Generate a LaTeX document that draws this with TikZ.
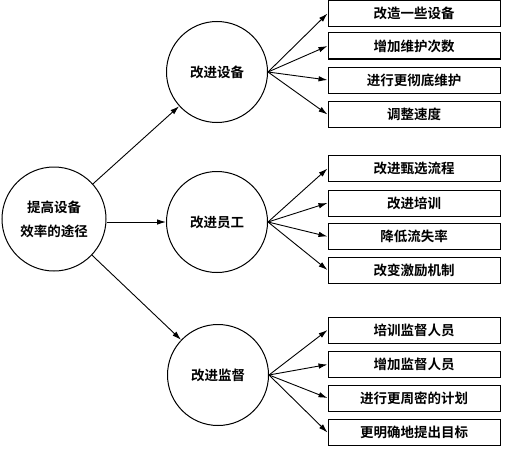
\documentclass[tikz,border=0pt]{standalone}
\usepackage{fontspec}
\newfontfamily\cjk{Noto Sans CJK SC}[BoldFont={Noto Sans CJK SC Bold}]
\usetikzlibrary{arrows.meta}
\begin{document}
\begin{tikzpicture}[x=1pt,y=-1pt,
  every node/.style={font=\cjk\bfseries\fontsize{13.5}{24}\selectfont},
  bigc/.style={draw, circle, line width=1pt, minimum size=104pt, inner sep=0pt, align=center},
  midc/.style={draw, circle, line width=1pt, minimum size=101pt, inner sep=0pt},
  box/.style={draw, rectangle, line width=1pt, minimum width=172pt, minimum height=26pt, inner sep=0pt},
  arr/.style={line width=0.9pt, -{Latex[length=9pt,width=5.5pt]}}]
\useasboundingbox (0,0) rectangle (508,452);
\node[bigc] (L) at (54,219) {提高设备\\效率的途径};
\node[midc] (M1) at (217,72) {改进设备};
\node[midc] (M2) at (217,222) {改进员工};
\node[midc] (M3) at (218,375) {改进监督};
\node[box] (a1) at (414,13.5) {改造一些设备};
\node[box] (a2) at (414,46) {增加维护次数};
\node[box] (a3) at (414,80) {进行更彻底维护};
\node[box] (a4) at (414,114.5) {调整速度};
\node[box] (b1) at (414,168.5) {改进甄选流程};
\node[box] (b2) at (414,203) {改进培训};
\node[box] (b3) at (414,236.5) {降低流失率};
\node[box] (b4) at (414,270) {改变激励机制};
\node[box] (c1) at (414,330) {培训监督人员};
\node[box] (c2) at (414,364.5) {增加监督人员};
\node[box] (c3) at (414,398) {进行更周密的计划};
\node[box] (c4) at (414,432.5) {更明确地提出目标};
\draw[arr] (L) -- (M1);
\draw[arr] (L.east |- M2) -- (M2.west);
\draw[arr] (L) -- (M3);
\foreach \m/\g in {M1/a, M2/b, M3/c}{
  \foreach \i in {1,...,4}{
    \draw[arr] (\m.east) -- (\g\i.west);
  }
}
\end{tikzpicture}
\end{document}
